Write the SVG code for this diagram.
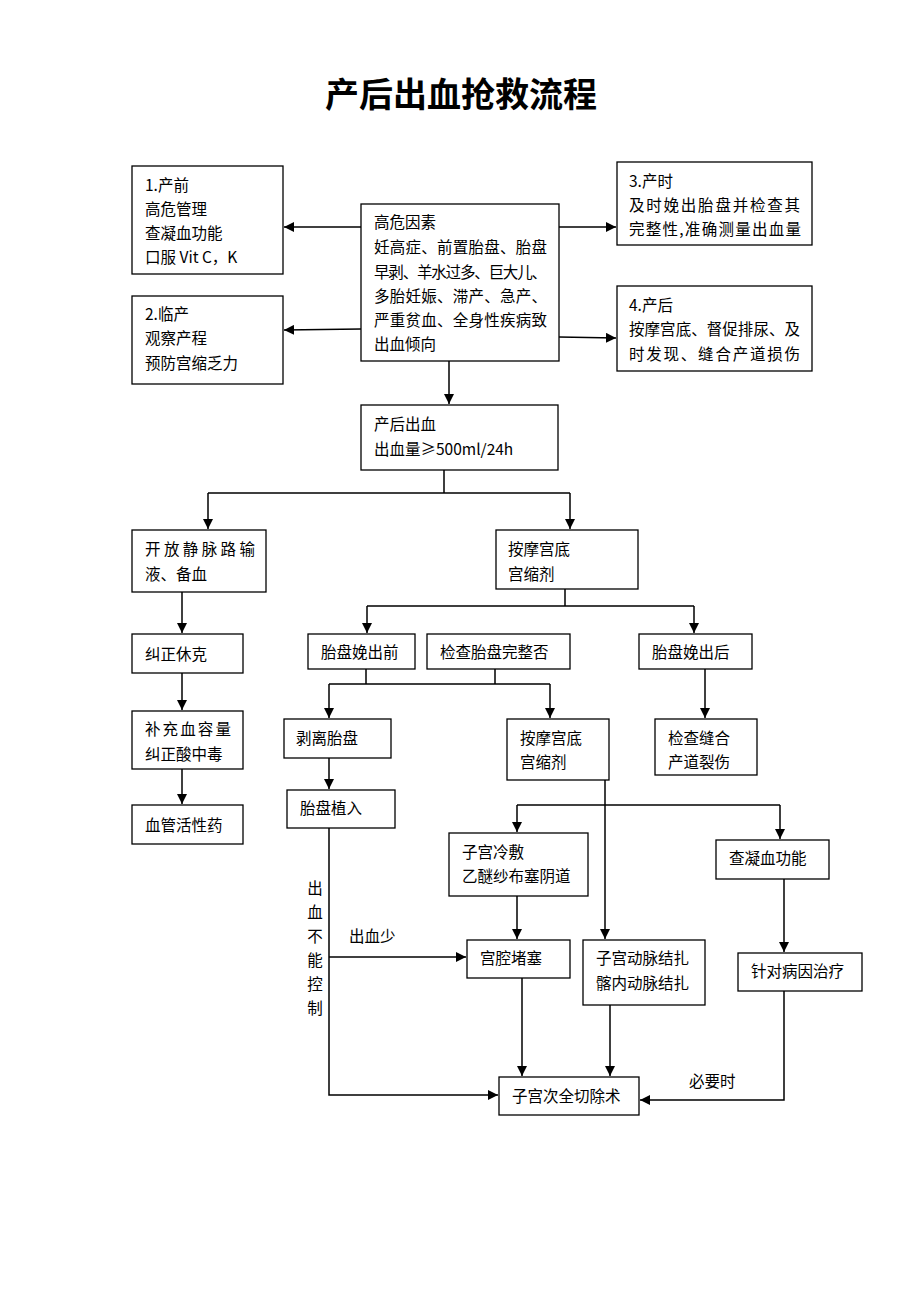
<svg xmlns="http://www.w3.org/2000/svg" width="920" height="1302" viewBox="0 0 920 1302">
<defs>
<marker id="ah" viewBox="0 0 10 10" refX="10" refY="5" markerWidth="10" markerHeight="10" markerUnits="userSpaceOnUse" orient="auto">
<path d="M0,0 L10,5 L0,10 z" fill="#000"/>
</marker>
</defs>
<style>
rect{fill:#fff;stroke:#000;stroke-width:1.3}
text{font-family:"Noto Sans CJK SC","Noto Sans",sans-serif;font-size:15.5px;fill:#000}
.t{font-size:34px;font-weight:bold}
.c path{fill:none;stroke:#000;stroke-width:1.5}
.a{marker-end:url(#ah)}
</style>
<rect x="0" y="0" width="920" height="1302" style="fill:#fff;stroke:none"/>
<text class="t" x="461" y="107" text-anchor="middle" textLength="272">产后出血抢救流程</text>

<g class="c" id="connectors">
<path class="a" d="M361,227 H284"/>
<path class="a" d="M361,329 L284,330"/>
<path class="a" d="M559,227 H616"/>
<path class="a" d="M559,337 L616,338"/>
<path class="a" d="M449,361 V404"/>
<path d="M444,470 V493 M208,493 H570"/>
<path class="a" d="M208,493 V529"/>
<path class="a" d="M570,493 V529"/>
<path d="M565,589 V606 M367,606 H694"/>
<path class="a" d="M367,606 V633"/>
<path class="a" d="M694,606 V633"/>
<path class="a" d="M182,592 V633"/>
<path class="a" d="M182,673 V710"/>
<path class="a" d="M182,769 V804"/>
<path d="M366,669 V684 M495,669 V684 M329,684 H550"/>
<path class="a" d="M329,684 V718"/>
<path class="a" d="M550,684 V718"/>
<path class="a" d="M705,669 V718"/>
<path class="a" d="M329,758 V789"/>
<path class="a" d="M329,828 V1095 H498"/>
<path class="a" d="M329,957 H466"/>
<path class="a" d="M605,780 V939"/>
<path d="M517,805 H780"/>
<path class="a" d="M517,805 V832"/>
<path class="a" d="M780,805 V839"/>
<path class="a" d="M517,896 V939"/>
<path class="a" d="M784,879 V952"/>
<path class="a" d="M522,978 V1076"/>
<path class="a" d="M610,1005 V1076"/>
<path class="a" d="M784,991 V1100 H640"/>
</g>

<g id="label-bleed-uncontrolled">
<text x="315" y="894" text-anchor="middle">出</text>
<text x="315" y="918" text-anchor="middle">血</text>
<text x="315" y="942" text-anchor="middle">不</text>
<text x="315" y="966" text-anchor="middle">能</text>
<text x="315" y="990" text-anchor="middle">控</text>
<text x="315" y="1014" text-anchor="middle">制</text>
</g>
<g id="label-bleed-less"><text x="349" y="942">出血少</text></g>
<g id="label-necessary"><text x="689" y="1087">必要时</text></g>

<g id="n-antepartum">
<rect x="132" y="166" width="151" height="108"/>
<text x="145" y="191">1.产前</text>
<text x="145" y="215">高危管理</text>
<text x="145" y="239">查凝血功能</text>
<text x="145" y="263">口服 Vit C，K</text>
</g>
<g id="n-risk">
<rect x="361" y="204" width="198" height="157"/>
<text x="374" y="228">高危因素</text>
<text x="374" y="253" textLength="173">妊高症、前置胎盘、胎盘</text>
<text x="374" y="278" textLength="173">早剥、羊水过多、巨大儿、</text>
<text x="374" y="302" textLength="173">多胎妊娠、滞产、急产、</text>
<text x="374" y="326" textLength="173">严重贫血、全身性疾病致</text>
<text x="374" y="350">出血倾向</text>
</g>
<g id="n-intrapartum">
<rect x="617" y="162" width="195" height="83"/>
<text x="629" y="187">3.产时</text>
<text x="629" y="211" textLength="171">及时娩出胎盘并检查其</text>
<text x="629" y="235" textLength="172">完整性,准确测量出血量</text>
</g>
<g id="n-labor">
<rect x="132" y="296" width="151" height="88"/>
<text x="145" y="320">2.临产</text>
<text x="145" y="344">观察产程</text>
<text x="145" y="369">预防宫缩乏力</text>
</g>
<g id="n-postpartum">
<rect x="617" y="286" width="195" height="85"/>
<text x="629" y="311">4.产后</text>
<text x="629" y="335" textLength="171">按摩宫底、督促排尿、及</text>
<text x="629" y="360" textLength="171">时发现、缝合产道损伤</text>
</g>
<g id="n-pph">
<rect x="361" y="405" width="197" height="65"/>
<text x="374" y="430">产后出血</text>
<text x="374" y="455">出血量≥500ml/24h</text>
</g>
<g id="n-iv">
<rect x="132" y="530" width="134" height="62"/>
<text x="145" y="555" textLength="110">开放静脉路输</text>
<text x="145" y="580">液、备血</text>
</g>
<g id="n-massage1">
<rect x="496" y="530" width="142" height="59"/>
<text x="508" y="555">按摩宫底</text>
<text x="508" y="580">宫缩剂</text>
</g>
<g id="n-before">
<rect x="308" y="634" width="107" height="35"/>
<text x="321" y="658">胎盘娩出前</text>
</g>
<g id="n-check">
<rect x="427" y="634" width="143" height="35"/>
<text x="440" y="658">检查胎盘完整否</text>
</g>
<g id="n-after">
<rect x="639" y="634" width="113" height="35"/>
<text x="652" y="658">胎盘娩出后</text>
</g>
<g id="n-shock">
<rect x="132" y="634" width="111" height="39"/>
<text x="145" y="660">纠正休克</text>
</g>
<g id="n-volume">
<rect x="132" y="711" width="111" height="58"/>
<text x="145" y="735" textLength="86">补充血容量</text>
<text x="145" y="760">纠正酸中毒</text>
</g>
<g id="n-vaso">
<rect x="132" y="805" width="111" height="39"/>
<text x="145" y="831">血管活性药</text>
</g>
<g id="n-peel">
<rect x="284" y="719" width="107" height="39"/>
<text x="296" y="744">剥离胎盘</text>
</g>
<g id="n-massage2">
<rect x="507" y="719" width="102" height="61"/>
<text x="520" y="744">按摩宫底</text>
<text x="520" y="768">宫缩剂</text>
</g>
<g id="n-suture">
<rect x="655" y="719" width="102" height="56"/>
<text x="668" y="744">检查缝合</text>
<text x="668" y="768">产道裂伤</text>
</g>
<g id="n-accreta">
<rect x="287" y="790" width="108" height="38"/>
<text x="300" y="814">胎盘植入</text>
</g>
<g id="n-cold">
<rect x="449" y="833" width="139" height="63"/>
<text x="462" y="858">子宫冷敷</text>
<text x="462" y="882">乙醚纱布塞阴道</text>
</g>
<g id="n-coag">
<rect x="716" y="840" width="113" height="39"/>
<text x="729" y="864">查凝血功能</text>
</g>
<g id="n-packing">
<rect x="467" y="940" width="103" height="38"/>
<text x="480" y="964">宫腔堵塞</text>
</g>
<g id="n-ligation">
<rect x="583" y="940" width="122" height="65"/>
<text x="596" y="964">子宫动脉结扎</text>
<text x="596" y="989">髂内动脉结扎</text>
</g>
<g id="n-cause">
<rect x="738" y="953" width="124" height="38"/>
<text x="751" y="977">针对病因治疗</text>
</g>
<g id="n-hysterectomy">
<rect x="499" y="1077" width="140" height="38"/>
<text x="512" y="1102">子宫次全切除术</text>
</g>
</svg>
